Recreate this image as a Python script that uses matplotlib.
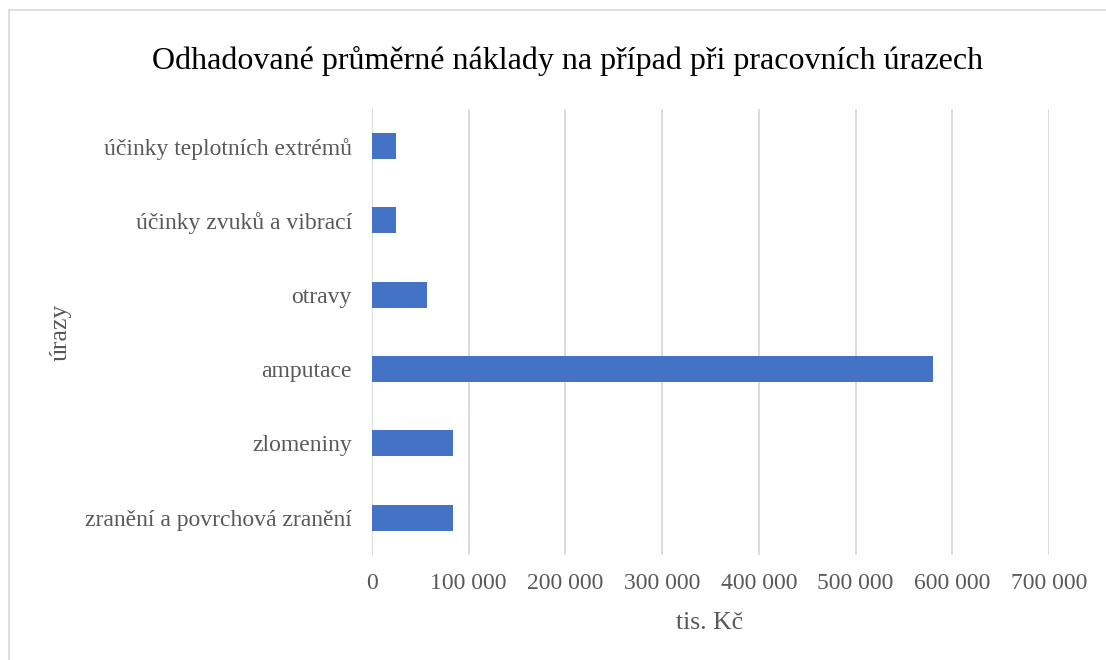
import matplotlib.pyplot as plt
from matplotlib.patches import Rectangle
from matplotlib.ticker import FuncFormatter

# ==============================
# Data
# ==============================

categories = [
    "zranění a povrchová zranění",
    "zlomeniny",
    "amputace",
    "otravy",
    "účinky zvuků a vibrací",
    "účinky teplotních extrémů",
]

costs = [84000, 84000, 580000, 56500, 24500, 24500]

x_ticks = [0, 100000, 200000, 300000, 400000, 500000, 600000, 700000]


# ==============================
# Figure
# ==============================

plt.rcParams["font.family"] = ["Liberation Serif", "DejaVu Serif"]

fig = plt.figure(figsize=(11.06, 6.6), dpi=100)

# light border of the chart area
fig.patches.append(
    Rectangle(
        (8.5 / 1106, -0.1), 1.2, 1.1 - 10 / 660,
        transform=fig.transFigure,
        fill=False,
        edgecolor="#d9d9d9",
        linewidth=1.2,
    )
)

ax = fig.add_axes([0.3363, 0.1591, 0.6121, 0.6758])

ax.barh(
    categories,
    costs,
    height=0.35,
    color="#4472C4",
    zorder=3,
)

ax.set_xlim(0, 700000)
ax.set_ylim(-0.5, len(categories) - 0.5)
ax.set_xticks(x_ticks)
ax.xaxis.set_major_formatter(
    FuncFormatter(lambda v, p: f"{int(v):,}".replace(",", " "))
)

ax.grid(axis="x", color="#d9d9d9", linewidth=1.3, zorder=0)
ax.grid(axis="y", visible=False)

for s in ax.spines.values():
    s.set_visible(False)

ax.tick_params(axis="both", length=0, colors="#595959", labelsize=17)
ax.tick_params(axis="x", pad=13)
ax.tick_params(axis="y", pad=14.5)

ax.set_xlabel("tis. Kč", fontsize=18.5, color="#595959")
ax.xaxis.set_label_coords(0.498, -0.128)
ax.set_ylabel("úrazy", fontsize=18.5, color="#595959")
ax.yaxis.set_label_coords(-0.443, 0.5)

fig.text(
    0.513, 0.907,
    "Odhadované průměrné náklady na případ při pracovních úrazech",
    ha="center",
    va="center",
    fontsize=23,
    color="#000000",
)

plt.savefig("out.png", dpi=100)
plt.close()
